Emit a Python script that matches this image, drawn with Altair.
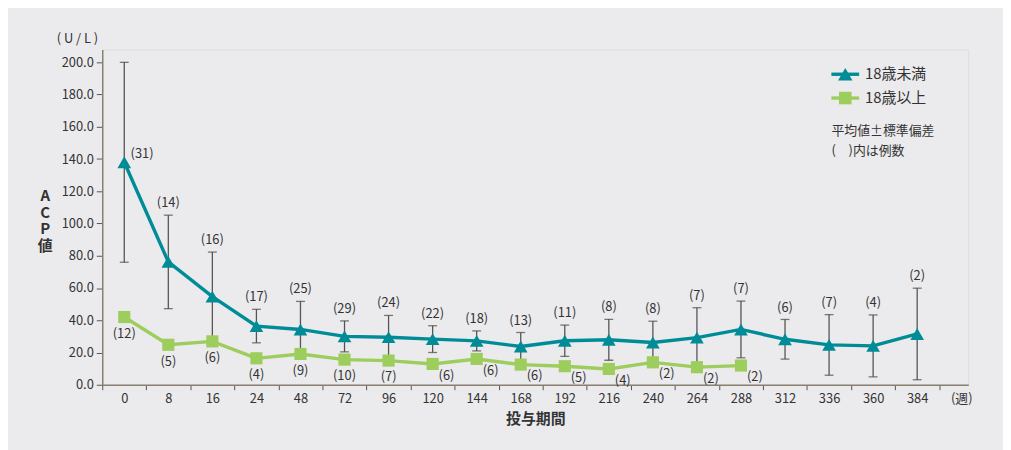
import altair as alt
import pandas as pd

# ---- data ----
weeks = ["0", "8", "16", "24", "48", "72", "96", "120", "144", "168", "192",
         "216", "240", "264", "288", "312", "336", "360", "384"]
u18_mean = [138, 76.2, 54.7, 36.4, 34.3, 30.0, 29.5, 28.3, 27.2, 23.7, 27.3,
            27.9, 26.2, 29.2, 34.3, 28.2, 24.7, 24.1, 31.5]
u18_sd = [62, 29, 27.6, 10.4, 17.4, 9.6, 13.5, 8.3, 6.2, 8.7, 9.7,
          12.7, 13.2, 18.6, 17.6, 12.3, 18.8, 19.2, 28.4]
u18_n = [31, 14, 16, 17, 25, 29, 24, 22, 18, 13, 11, 8, 8, 7, 7, 6, 7, 4, 2]
o18_mean = [42, 24.8, 26.9, 16.4, 19.1, 15.6, 15.0, 12.9, 16.0, 12.5, 11.5,
            9.8, 13.9, 10.9, 11.9]
o18_n = [12, 5, 6, 4, 9, 10, 7, 6, 6, 6, 5, 4, 2, 2, 2]
series_names = ["18歳未満", "18歳以上"]
x_labels = weeks + ["(週)"]
y_ticks = [0, 20, 40, 60, 80, 100, 120, 140, 160, 180, 200]

TEAL = "#008c97"
GREEN = "#9dcd5c"
AXIS = "#8a8070"
TXT = "#333333"
FONT = "Noto Sans CJK JP"

W, H = 873, 338
XMIN, XMAX = -0.5, 19.16
band = W / (XMAX - XMIN)

u = pd.DataFrame({
    "idx": list(range(len(weeks))),
    "week": weeks,
    "mean": u18_mean,
    "sd": u18_sd,
    "n": u18_n,
})
o = pd.DataFrame({
    "idx": list(range(len(o18_mean))),
    "week": weeks[:len(o18_mean)],
    "mean": o18_mean,
    "n": o18_n,
})

label_expr = "[" + ",".join("'" + s + "'" for s in x_labels) + "][round(datum.value + 0.5)]"

x_axis = alt.Axis(
    values=[i - 0.5 for i in range(len(weeks) + 1)],
    labelExpr=label_expr,
    labelOffset=band / 2,
    labelFlush=False,
    labelOverlap=False,
    labelBound=False,
    labelFontSize=13,
    labelColor=TXT,
    labelPadding=3,
    tickSize=5,
    tickColor="#555555",
    domainColor=AXIS,
    domainWidth=1.5,
    grid=False,
    title="投与期間",
    titleFontSize=15,
    titleFontWeight="bold",
    titleColor=TXT,
    titlePadding=6,
)
y_axis = alt.Axis(
    values=y_ticks,
    format=".1f",
    labelFontSize=13,
    labelColor=TXT,
    labelPadding=3,
    tickSize=6,
    tickColor="#555555",
    domainColor=AXIS,
    domainWidth=1.5,
    grid=False,
    title=["A", "C", "P", "値"],
    titleAngle=0,
    titleX=-58,
    titleY=140,
    titleAlign="center",
    titleBaseline="top",
    titleFontSize=15,
    titleFontWeight="bold",
    titleLineHeight=17,
    titleColor=TXT,
)

xs = alt.Scale(domain=[XMIN, XMAX], nice=False, zero=False)
ys = alt.Scale(domain=[0, 208], nice=False)


def X():
    return alt.X("idx:Q", scale=xs, axis=x_axis)


def Y(field):
    return alt.Y(field + ":Q", scale=ys, axis=y_axis)


ub = alt.Chart(u).transform_calculate(
    lo="datum.mean - datum.sd", hi="datum.mean + datum.sd",
    lab="'(' + datum.n + ')'"
)

err = ub.mark_rule(color="#555555", strokeWidth=1.3).encode(x=X(), y=Y("lo"), y2="hi:Q")
cap_hi = ub.mark_tick(orient="horizontal", size=9, thickness=1.3, color="#444444").encode(x=X(), y=Y("hi"))
cap_lo = ub.mark_tick(orient="horizontal", size=9, thickness=1.3, color="#444444").encode(x=X(), y=Y("lo"))

u_line = ub.mark_line(color=TEAL, strokeWidth=3.4).encode(x=X(), y=Y("mean"))
u_pts = ub.mark_point(shape="triangle-up", filled=True, size=190, color=TEAL, opacity=1).encode(x=X(), y=Y("mean"))
u_lab = ub.transform_filter("datum.idx > 0").mark_text(
    fontSize=13, color=TXT, dy=-12, baseline="middle", font=FONT
).encode(x=X(), y=Y("hi"), text="lab:N")
u_lab0 = ub.transform_filter("datum.idx == 0").mark_text(
    fontSize=13, color=TXT, dx=18, dy=-8, baseline="middle", font=FONT
).encode(x=X(), y=Y("mean"), text="lab:N")

ob = alt.Chart(o).transform_calculate(lab="'(' + datum.n + ')'")
o_line = ob.mark_line(color=GREEN, strokeWidth=3.4).encode(x=X(), y=Y("mean"))
o_pts = ob.mark_point(shape="square", filled=True, size=150, color=GREEN, opacity=1).encode(x=X(), y=Y("mean"))
o_lab_a = ob.transform_filter("datum.idx < 7").mark_text(
    fontSize=13, color=TXT, dy=17, baseline="middle", font=FONT
).encode(x=X(), y=Y("mean"), text="lab:N")
o_lab_b = ob.transform_filter("datum.idx >= 7").mark_text(
    fontSize=13, color=TXT, dx=14, dy=12, baseline="middle", font=FONT
).encode(x=X(), y=Y("mean"), text="lab:N")

# ---- legend / notes ----
one = pd.DataFrame({"k": [0]})
base1 = alt.Chart(one)
LX0, LX1 = 735, 763
leg = []
for i, (name, col, shp, sz) in enumerate([(series_names[0], TEAL, "triangle-up", 210),
                                          (series_names[1], GREEN, "square", 160)]):
    yy = 25 + 24 * i
    leg.append(base1.mark_rule(color=col, strokeWidth=3.4).encode(
        x=alt.value(LX0), x2=alt.value(LX1), y=alt.value(yy)))
    leg.append(base1.mark_point(shape=shp, filled=True, size=sz, color=col, opacity=1).encode(
        x=alt.value((LX0 + LX1) / 2), y=alt.value(yy)))
    leg.append(base1.mark_text(align="left", baseline="middle", fontSize=15, color=TXT, font=FONT).encode(
        x=alt.value(LX1 + 6), y=alt.value(yy), text=alt.value(name)))

notes = [
    base1.mark_text(align="left", baseline="middle", fontSize=13, color=TXT, font=FONT).encode(
        x=alt.value(LX0), y=alt.value(82), text=alt.value("平均値±標準偏差")),
    base1.mark_text(align="left", baseline="middle", fontSize=13, color=TXT, font=FONT).encode(
        x=alt.value(LX0), y=alt.value(102), text=alt.value("(　)内は例数")),
    base1.mark_text(align="center", baseline="middle", fontSize=13, color=TXT, font=FONT).encode(
        x=alt.value(-25), y=alt.value(-10), text=alt.value("( U / L )")),
]

chart = alt.layer(
    err, cap_hi, cap_lo, u_line, o_line, u_pts, o_pts,
    u_lab, u_lab0, o_lab_a, o_lab_b, *leg, *notes
).properties(
    width=W, height=H,
    autosize="none",
    padding={"left": 95, "top": 40, "right": 35, "bottom": 64},
    background="#ebebee",
).configure_view(
    fill="#fdf5e5", stroke=None
).configure(font=FONT)

chart.save("out.html", embed_options={"renderer": "svg", "actions": False})
